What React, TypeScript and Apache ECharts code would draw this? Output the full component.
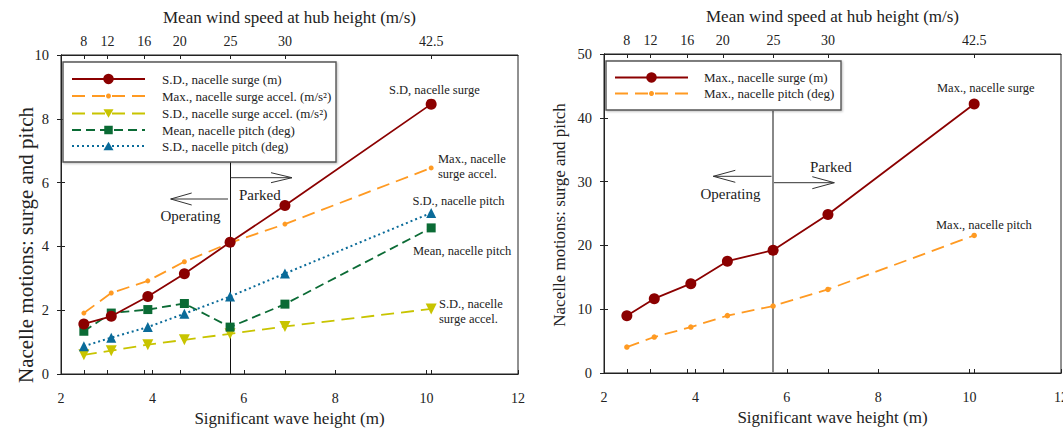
import React, { useEffect, useRef } from 'react';
import * as echarts from 'echarts';

// Significant wave height (m) of each sea state
const HS = [2.5, 3.1, 3.9, 4.7, 5.7, 6.9, 10.1];
// Mean wind speed at hub height, placed at its matching wave height on the top axis
const WIND_TICK_HS = [2.5, 3.02, 3.82, 4.6, 5.71, 6.9, 10.1];
const WIND_LABELS = ['8', '12', '16', '20', '25', '30', '42.5'];

// Left panel
const SD_SURGE = [1.57, 1.81, 2.43, 3.14, 4.13, 5.28, 8.46];
const MAX_SURGE_ACCEL = [1.91, 2.54, 2.92, 3.52, 4.11, 4.7, 6.46];
const SD_SURGE_ACCEL = [0.6, 0.73, 0.92, 1.07, 1.26, 1.49, 2.04];
const MEAN_PITCH = [1.34, 1.91, 2.02, 2.21, 1.47, 2.19, 4.58];
const SD_PITCH = [0.87, 1.14, 1.47, 1.89, 2.43, 3.15, 5.05];

// Right panel
const MAX_SURGE = [8.99, 11.65, 14.0, 17.53, 19.25, 24.84, 42.17];
const MAX_PITCH = [4.07, 5.64, 7.2, 8.99, 10.5, 13.1, 21.56];

// Operating / parked boundary
const PARKED_HS = 5.7;
const LEFT_DIVIDER_TOP = 6.65;
const RIGHT_DIVIDER_TOP = 41.1;

const FONT = 'Liberation Serif';
const INK = '#222';
const RED = '#8b0000';
const ORANGE = '#ff9a22';
const YELLOW = '#c8c400';
const GREEN = '#0b6b35';
const BLUE = '#0a6b99';

const pts = (ys: number[]) => HS.map((h, i) => [h, ys[i]]);

const windLabel = (v: number) => {
  const i = WIND_TICK_HS.findIndex((t) => Math.abs(t - v) < 1e-6);
  return i >= 0 ? WIND_LABELS[i] : '';
};

type LegendRow = {
  name: string;
  color: string;
  dash: number[] | null;
  width: number;
  symbol: 'circle' | 'dot' | 'triDown' | 'triUp' | 'square';
  size: number;
  y: number;
};

function symbolEl(kind: LegendRow['symbol'], cx: number, cy: number, s: number, color: string) {
  const h = s / 2;
  switch (kind) {
    case 'circle':
    case 'dot':
      return { type: 'circle', z: 11, shape: { cx, cy, r: h }, style: { fill: color } };
    case 'square':
      return { type: 'rect', z: 11, shape: { x: cx - h, y: cy - h, width: s, height: s }, style: { fill: color } };
    case 'triDown':
      return {
        type: 'polygon', z: 11,
        shape: { points: [[cx - h, cy - h * 0.87], [cx + h, cy - h * 0.87], [cx, cy + h * 0.87]] },
        style: { fill: color },
      };
    default:
      return {
        type: 'polygon', z: 11,
        shape: { points: [[cx - h, cy + h * 0.87], [cx + h, cy + h * 0.87], [cx, cy - h * 0.87]] },
        style: { fill: color },
      };
  }
}

function legendBox(
  box: { x: number; y: number; w: number; h: number },
  lineX1: number, lineX2: number, textX: number, rows: LegendRow[]
) {
  const els: any[] = [
    {
      type: 'rect', z: 10,
      shape: { x: box.x, y: box.y, width: box.w, height: box.h },
      style: { fill: '#fff', stroke: '#555', lineWidth: 1.4, shadowBlur: 2, shadowColor: 'rgba(0,0,0,0.25)', shadowOffsetX: 1, shadowOffsetY: 1 },
    },
  ];
  rows.forEach((r) => {
    els.push({
      type: 'line', z: 11,
      shape: { x1: lineX1, y1: r.y, x2: lineX2, y2: r.y },
      style: { stroke: r.color, lineWidth: r.width, lineDash: r.dash || undefined },
    });
    els.push(symbolEl(r.symbol, (lineX1 + lineX2) / 2, r.y, r.size, r.color));
    els.push({
      type: 'text', z: 11, x: textX, y: r.y,
      style: { text: r.name, fill: INK, fontSize: 13, fontFamily: FONT, align: 'left', verticalAlign: 'middle' },
    });
  });
  return els;
}

function arrow(x1: number, y: number, x2: number, head: number, half: number, color = '#333') {
  const dir = x2 > x1 ? 1 : -1;
  return [
    { type: 'line', z: 9, shape: { x1, y1: y, x2, y2: y }, style: { stroke: color, lineWidth: 1 } },
    {
      type: 'polyline', z: 9,
      shape: { points: [[x2 - dir * head, y - half], [x2, y], [x2 - dir * head, y + half]] },
      style: { stroke: color, lineWidth: 1, fill: 'none' },
    },
  ];
}

function label(text: string, x: number, y: number, size = 12.5, extra: any = {}) {
  return {
    type: 'text', z: 9, x, y, ...extra,
    style: { text, fill: INK, fontSize: size, fontFamily: FONT, align: 'left', verticalAlign: 'middle', lineHeight: 15, ...(extra.style || {}) },
  };
}

function buildOption() {
  const axisLine = { show: true, lineStyle: { color: INK, width: 1 } };
  const tickLabel = { color: INK, fontFamily: FONT };
  const nameStyle = { color: INK, fontFamily: FONT, fontSize: 17 };

  const bottomAxis = (gridIndex: number) => ({
    type: 'value', gridIndex, position: 'bottom', min: 2, max: 12, interval: 2,
    axisLine, splitLine: { show: false },
    axisTick: { show: true, inside: true, length: 4, lineStyle: { color: INK } },
    axisLabel: { ...tickLabel, fontSize: 14, margin: 17 },
    name: 'Significant wave height (m)', nameLocation: 'middle', nameGap: 34, nameTextStyle: nameStyle,
  });
  const topAxis = (gridIndex: number, inside: boolean) => ({
    type: 'value', gridIndex, position: 'top', min: 2, max: 12,
    axisLine, splitLine: { show: false },
    axisTick: {
      show: true, inside, length: 4,
      customValues: inside ? WIND_TICK_HS : [2, ...WIND_TICK_HS, 12],
      lineStyle: { color: INK },
    },
    axisLabel: inside
      ? { show: false }
      : { ...tickLabel, fontSize: 14, margin: 7, customValues: WIND_TICK_HS, formatter: windLabel },
    ...(inside
      ? {}
      : { name: 'Mean wind speed at hub height (m/s)', nameLocation: 'middle', nameGap: 29, nameTextStyle: nameStyle }),
  });
  const leftAxis = (gridIndex: number, max: number, interval: number, inside: boolean) => ({
    type: 'value', gridIndex, position: 'left', min: 0, max, interval,
    axisLine, splitLine: { show: false },
    axisTick: { show: true, inside, length: 4, lineStyle: { color: INK } },
    axisLabel: inside ? { show: false } : { ...tickLabel, fontSize: 14.5, margin: 12 },
  });

  const divider = (top: number, color: string, width: number) => ({
    silent: true,
    symbol: ['none', 'none'],
    label: { show: false },
    emphasis: { disabled: true },
    lineStyle: { color, width, type: 'solid' },
    data: [[{ coord: [PARKED_HS, 0] }, { coord: [PARKED_HS, top] }]],
  });

  const line = (
    name: string, x: number, y: number, data: number[], color: string,
    symbol: string, size: number, type: any, width = 1.8, extra: any = {}
  ) => ({
    name, type: 'line', xAxisIndex: x, yAxisIndex: y, data: pts(data),
    symbol, symbolSize: size, showSymbol: true,
    itemStyle: { color }, lineStyle: { color, width, type },
    emphasis: { disabled: true }, z: 5, ...extra,
  });

  const leftRows: LegendRow[] = [
    { name: 'S.D., nacelle surge (m)', color: RED, dash: null, width: 1.8, symbol: 'circle', size: 10.5, y: 79 },
    { name: 'Max., nacelle surge accel. (m/s²)', color: ORANGE, dash: [13, 7], width: 1.8, symbol: 'dot', size: 5, y: 96 },
    { name: 'S.D., nacelle surge accel. (m/s²)', color: YELLOW, dash: [13, 7], width: 1.8, symbol: 'triDown', size: 10, y: 113.5 },
    { name: 'Mean, nacelle pitch (deg)', color: GREEN, dash: [9, 5], width: 1.8, symbol: 'square', size: 8.5, y: 130 },
    { name: 'S.D., nacelle pitch (deg)', color: BLUE, dash: [2, 3], width: 2, symbol: 'triUp', size: 10, y: 146 },
  ];
  const rightRows: LegendRow[] = [
    { name: 'Max., nacelle surge (m)', color: RED, dash: null, width: 1.8, symbol: 'circle', size: 10.5, y: 77.5 },
    { name: 'Max., nacelle pitch (deg)', color: ORANGE, dash: [13, 7], width: 1.8, symbol: 'dot', size: 5, y: 93.5 },
  ];

  const graphic: any[] = [
    ...legendBox({ x: 63, y: 62, w: 273, h: 100 }, 72, 145, 162, leftRows),
    ...legendBox({ x: 606, y: 61, w: 235, h: 49 }, 615, 688, 704, rightRows),

    // left panel regime arrows
    ...arrow(230.5, 177.7, 292, 21, 5),
    ...arrow(228, 199, 170.7, 21, 6),
    label('Parked', 239, 194.5, 15),
    label('Operating', 160.5, 215.5, 15),

    // right panel regime arrows
    ...arrow(771.5, 176.3, 713.3, 22, 6),
    ...arrow(774, 182.7, 834.3, 22, 6),
    label('Parked', 810, 167, 15),
    label('Operating', 700.5, 193.5, 15),

    // curve labels, left panel
    label('S.D, nacelle surge', 389, 89.5),
    label('Max., nacelle\nsurge accel.', 438, 166.8),
    label('S.D., nacelle pitch', 412.5, 201),
    label('Mean, nacelle pitch', 413, 251),
    label('S.D., nacelle\nsurge accel.', 439, 311.8),

    // curve labels, right panel
    label('Max., nacelle surge', 937, 88),
    label('Max., nacelle pitch', 936, 224.5),

    // y-axis titles
    {
      type: 'text', z: 9, x: 25.5, y: 245, rotation: Math.PI / 2,
      style: { text: 'Nacelle motions: surge and pitch', fill: INK, fontSize: 21, fontFamily: FONT, align: 'center', verticalAlign: 'middle' },
    },
    {
      type: 'text', z: 9, x: 559, y: 215, rotation: Math.PI / 2,
      style: { text: 'Nacelle motions: surge and pitch', fill: INK, fontSize: 17, fontFamily: FONT, align: 'center', verticalAlign: 'middle' },
    },
  ];

  const gridBase = { show: true, borderColor: INK, borderWidth: 1, backgroundColor: 'transparent', containLabel: false, outerBoundsMode: 'none' };

  return {
    animation: false,
    backgroundColor: '#fff',
    textStyle: { fontFamily: FONT },
    grid: [
      { ...gridBase, left: 61, right: 545, top: 55, bottom: 55 },
      { ...gridBase, left: 604, right: 2, top: 54, bottom: 56 },
    ],
    xAxis: [
      bottomAxis(0),
      topAxis(0, false),
      topAxis(0, true),
      bottomAxis(1),
      topAxis(1, false),
      topAxis(1, true),
    ],
    yAxis: [
      leftAxis(0, 10, 2, false),
      leftAxis(0, 10, 2, true),
      leftAxis(1, 50, 10, false),
      leftAxis(1, 50, 10, true),
    ],
    series: [
      line('S.D., nacelle surge (m)', 0, 0, SD_SURGE, RED, 'circle', 11, 'solid', 1.8, {
        markLine: divider(LEFT_DIVIDER_TOP, '#111', 1),
        z: 6,
      }),
      line('Max., nacelle surge accel. (m/s²)', 0, 0, MAX_SURGE_ACCEL, ORANGE, 'circle', 5, [13, 7]),
      line('S.D., nacelle surge accel. (m/s²)', 0, 0, SD_SURGE_ACCEL, YELLOW, 'triangle', 11, [13, 7], 1.8, { symbolRotate: 180 }),
      line('Mean, nacelle pitch (deg)', 0, 0, MEAN_PITCH, GREEN, 'rect', 9, [9, 5]),
      line('S.D., nacelle pitch (deg)', 0, 0, SD_PITCH, BLUE, 'triangle', 10, [2, 3], 2),
      line('Max., nacelle surge (m)', 3, 2, MAX_SURGE, RED, 'circle', 11, 'solid', 1.8, {
        markLine: divider(RIGHT_DIVIDER_TOP, '#888', 2),
      }),
      line('Max., nacelle pitch (deg)', 3, 2, MAX_PITCH, ORANGE, 'circle', 5.5, [13, 7]),
    ],
    graphic,
  };
}

export default function App() {
  const ref = useRef<HTMLDivElement>(null);
  useEffect(() => {
    if (!ref.current) return;
    const chart = echarts.init(ref.current, undefined, { renderer: 'svg' });
    chart.setOption(buildOption() as any);
    return () => chart.dispose();
  }, []);
  return (
    <div
      ref={ref}
      style={{ position: 'fixed', left: 0, top: 0, width: 1063, height: 429, background: '#fff' }}
    />
  );
}
